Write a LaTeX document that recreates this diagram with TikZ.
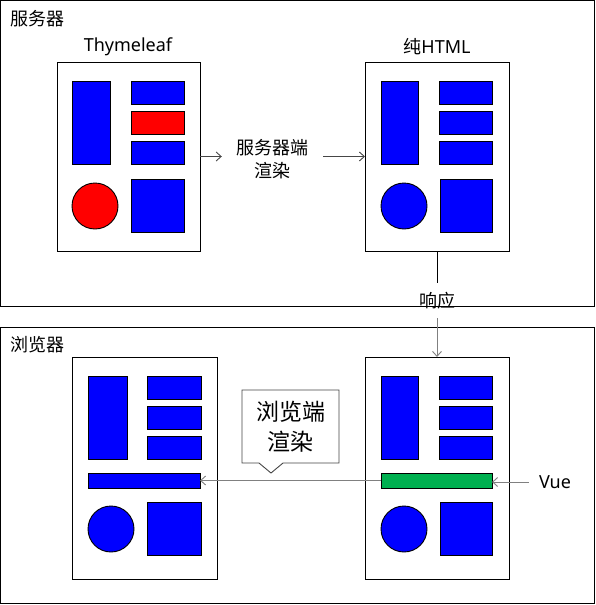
\documentclass[tikz,border=0pt]{standalone}
\usepackage{fontspec}
\setmainfont{Noto Sans}
\newfontfamily\cjk{Noto Sans CJK SC}
\usetikzlibrary{arrows.meta}
\newcommand\myrect[6]{\node[shapebox, fill=#6, minimum width={#4-#2}, minimum height={#5-#3}] (#1) at ({(#2+#4)/2},{(#3+#5)/2}) {};}
\newcommand\mycirc[5]{\node[shapebox, circle, fill=#5, minimum size={2*#4}] (#1) at (#2,#3) {};}
\begin{document}
\begin{tikzpicture}[x=1pt,y=-1pt,
  shapebox/.style={draw=black, line width=0.9pt, inner sep=0pt, outer sep=0pt},
  arr/.style={-{Straight Barb[length=5pt,width=9pt]}, line width=0.9pt},
  lbl/.style={inner sep=0pt, font=\fontsize{18}{23}\selectfont, align=center},
  big/.style={inner sep=0pt, font=\fontsize{23}{30}\selectfont\cjk, align=center}]
\useasboundingbox (0,0) rectangle (596,605);
\definecolor{myblue}{RGB}{0,0,255}
\definecolor{myred}{RGB}{255,0,0}
\definecolor{mygreen}{RGB}{0,176,80}
\definecolor{arrgray}{RGB}{128,128,128}
\definecolor{arrdark}{RGB}{70,70,70}

% groups
\myrect{srv}{0.5}{0.5}{594}{306}{white}
\node[lbl, anchor=west, font=\fontsize{18}{23}\selectfont\cjk] (srvlbl) at (10,19) {服务器};
\myrect{brw}{0.5}{327}{594}{603}{white}
\node[lbl, anchor=west, font=\fontsize{18}{23}\selectfont\cjk] (brwlbl) at (10,345) {浏览器};

% Thymeleaf doc
\myrect{t}{57}{62}{200}{251}{white}
\node[lbl] (tlbl) at (128,47) {Thymeleaf};
\myrect{t1}{72}{81}{110}{164}{myblue}
\myrect{t2}{131}{81}{184}{104}{myblue}
\myrect{t3}{131}{111}{184}{134}{myred}
\myrect{t4}{131}{141}{184}{164}{myblue}
\mycirc{tc}{95}{206}{23}{myred}
\myrect{t5}{131}{179}{184}{232}{myblue}

% pure HTML doc
\myrect{h}{365}{62}{509}{251}{white}
\node[lbl] (hlbl) at (437,47) {{\cjk 纯}HTML};
\myrect{h1}{381}{81}{418}{164}{myblue}
\myrect{h2}{439}{81}{492}{104}{myblue}
\myrect{h3}{439}{111}{492}{134}{myblue}
\myrect{h4}{439}{141}{492}{164}{myblue}
\mycirc{hc}{404}{206}{23}{myblue}
\myrect{h5}{440}{179}{492}{232}{myblue}

% server render
\node[lbl, font=\fontsize{18}{23}\selectfont\cjk, minimum width=101pt] (ssr) at (272.5,159.5) {服务器端\\渲染};
\draw[arr, draw=arrdark] (t.east) -- (t.east -| ssr.west);
\draw[arr, draw=arrdark] (ssr.east |- h.west) -- (h.west);

% response
\node[lbl, font=\fontsize{18}{23}\selectfont\cjk, minimum height=35pt] (resp) at (437,300.5) {响应};

% browser left doc
\myrect{b1}{72}{357}{217}{579}{white}
\myrect{bl1}{88}{376}{127}{459}{myblue}
\myrect{bl2}{147}{376}{201}{399}{myblue}
\myrect{bl3}{147}{406}{201}{429}{myblue}
\myrect{bl4}{147}{436}{201}{459}{myblue}
\myrect{blbar}{88}{473}{200}{488}{myblue}
\mycirc{blc}{111}{529}{23}{myblue}
\myrect{bl5}{147}{502}{201}{555}{myblue}

% browser right doc
\myrect{b2}{365}{357}{509}{579}{white}
\myrect{br1}{381}{376}{418}{459}{myblue}
\myrect{br2}{439}{376}{492}{399}{myblue}
\myrect{br3}{439}{406}{492}{429}{myblue}
\myrect{br4}{439}{436}{492}{459}{myblue}
\myrect{brbar}{381}{473}{492}{488}{mygreen}
\mycirc{brc}{404}{529}{23}{myblue}
\myrect{br5}{440}{502}{492}{555}{myblue}

\draw[line width=0.9pt, draw=black] (h.south -| resp) -- (resp.north);
\draw[arr, draw=arrgray] (resp.south) -- (resp.south |- b2.north);

% Vue
\node[lbl, inner xsep=10pt] (vue) at (555,482) {Vue};
\draw[arr, draw=arrgray] (vue.west) -- (vue.west -| brbar.east);
\draw[arr, draw=arrgray] (brbar.west) -- (blbar.east);

% callout
\draw[line width=0.9pt, draw=arrdark, fill=white] (242,390) -- (339,390) -- (339,463) -- (283,463) -- (271,473) -- (259,463) -- (242,463) -- cycle;
\node[big] (csr) at (290.5,427) {浏览端\\渲染};
\end{tikzpicture}
\end{document}
